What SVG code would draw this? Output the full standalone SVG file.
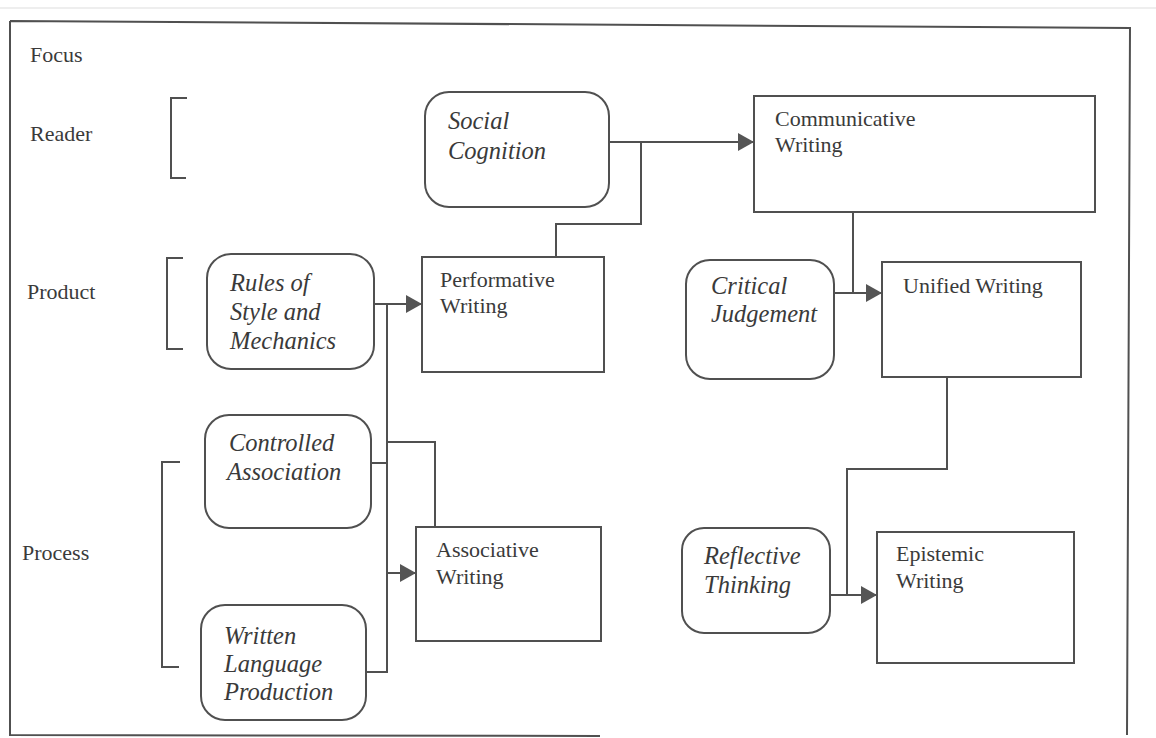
<svg xmlns="http://www.w3.org/2000/svg" width="1156" height="738" viewBox="0 0 1156 738">
<style>
  .t { font-family: "Liberation Serif", "Times New Roman", serif; font-size: 22px; fill: #3a3a3a; }
  .i { font-family: "Liberation Serif", "Times New Roman", serif; font-size: 24.5px; font-style: italic; fill: #3a3a3a; }
  .box { fill: #ffffff; stroke: #505050; stroke-width: 2; }
  .ln { fill: none; stroke: #505050; stroke-width: 2; }
</style>
<defs>
  <marker id="arr" markerUnits="userSpaceOnUse" markerWidth="16" markerHeight="18" refX="16" refY="9" orient="auto">
    <path d="M0,0 L16,9 L0,18 Z" fill="#555555"/>
  </marker>
</defs>
<rect x="0" y="0" width="1156" height="738" fill="#ffffff"/>
<line x1="0" y1="8" x2="1156" y2="8" stroke="#dddddd" stroke-width="1"/>
<g id="frame">
  <path class="ln" d="M10,21 L1130,28 L1127,735 M10,21 L10,735 L600,736" stroke-width="1.5"/>
</g>
<g id="focus-labels">
  <text class="t" x="30" y="62">Focus</text>
  <text class="t" x="30" y="141">Reader</text>
  <text class="t" x="27" y="299">Product</text>
  <text class="t" x="22" y="560">Process</text>
  <path class="ln" d="M187,98 L171,98 L171,178 L186,178"/>
  <path class="ln" d="M183,258 L167,258 L167,349 L183,349"/>
  <path class="ln" d="M180,462 L162,462 L162,667 L179,667"/>
</g>
<g id="connectors">
  <path class="ln" d="M609,142 L754,142" marker-end="url(#arr)"/>
  <path class="ln" d="M641,142 L641,224 L556,224 L556,257"/>
  <path class="ln" d="M374,304 L422,304" marker-end="url(#arr)"/>
  <path class="ln" d="M387,304 L387,672 L366,672"/>
  <path class="ln" d="M371,463 L387,463"/>
  <path class="ln" d="M387,442 L435,442 L435,527"/>
  <path class="ln" d="M387,573 L416,573" marker-end="url(#arr)"/>
  <path class="ln" d="M853,212 L853,293"/>
  <path class="ln" d="M834,293 L882,293" marker-end="url(#arr)"/>
  <path class="ln" d="M947,377 L947,469 L847,469 L847,595"/>
  <path class="ln" d="M830,595 L877,595" marker-end="url(#arr)"/>
</g>
<g id="social-cognition">
  <rect class="box" x="425" y="92" width="184" height="115" rx="24"/>
  <text class="i" x="448" y="129">Social</text>
  <text class="i" x="448" y="159">Cognition</text>
</g>
<g id="communicative-writing">
  <rect class="box" x="754" y="96" width="341" height="116"/>
  <text class="t" x="775" y="126">Communicative</text>
  <text class="t" x="775" y="152">Writing</text>
</g>
<g id="rules-of-style">
  <rect class="box" x="207" y="254" width="167" height="115" rx="24"/>
  <text class="i" x="230" y="291">Rules of</text>
  <text class="i" x="230" y="320">Style and</text>
  <text class="i" x="230" y="349">Mechanics</text>
</g>
<g id="performative-writing">
  <rect class="box" x="422" y="257" width="182" height="115"/>
  <text class="t" x="440" y="287">Performative</text>
  <text class="t" x="440" y="313">Writing</text>
</g>
<g id="critical-judgement">
  <rect class="box" x="686" y="260" width="148" height="119" rx="24"/>
  <text class="i" x="711" y="294">Critical</text>
  <text class="i" x="711" y="322">Judgement</text>
</g>
<g id="unified-writing">
  <rect class="box" x="882" y="262" width="199" height="115"/>
  <text class="t" x="903" y="293">Unified Writing</text>
</g>
<g id="controlled-association">
  <rect class="box" x="205" y="415" width="166" height="113" rx="24"/>
  <text class="i" x="229" y="451">Controlled</text>
  <text class="i" x="227" y="480">Association</text>
</g>
<g id="associative-writing">
  <rect class="box" x="416" y="527" width="185" height="114"/>
  <text class="t" x="436" y="557">Associative</text>
  <text class="t" x="436" y="584">Writing</text>
</g>
<g id="written-language-production">
  <rect class="box" x="201" y="605" width="165" height="115" rx="24"/>
  <text class="i" x="224" y="644">Written</text>
  <text class="i" x="224" y="672">Language</text>
  <text class="i" x="224" y="700">Production</text>
</g>
<g id="reflective-thinking">
  <rect class="box" x="682" y="528" width="148" height="105" rx="22"/>
  <text class="i" x="704" y="564">Reflective</text>
  <text class="i" x="704" y="593">Thinking</text>
</g>
<g id="epistemic-writing">
  <rect class="box" x="877" y="532" width="197" height="131"/>
  <text class="t" x="896" y="561">Epistemic</text>
  <text class="t" x="896" y="588">Writing</text>
</g>
</svg>
